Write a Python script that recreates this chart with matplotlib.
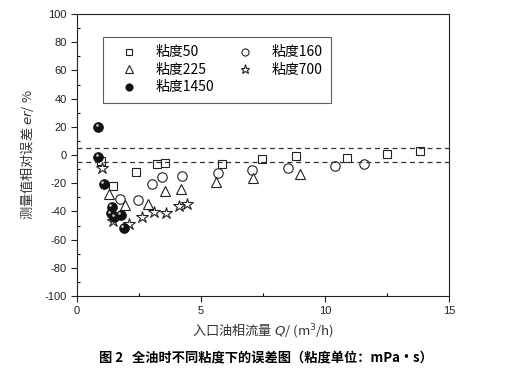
import matplotlib
matplotlib.use("Agg")
import matplotlib.pyplot as plt
import matplotlib.transforms as mtransforms
from matplotlib.ticker import MultipleLocator

plt.rcParams['font.family'] = ['Liberation Sans', 'Noto Sans CJK SC', 'DejaVu Sans']
plt.rcParams['axes.unicode_minus'] = False

# 粘度50
x50 = [0.95, 1.46, 2.36, 3.23, 3.55, 5.83, 7.47, 8.83, 10.9, 12.5, 13.83]
y50 = [-4.3, -21.8, -11.8, -6.6, -5.5, -6.2, -2.6, -0.9, -2.4, 0.7, 2.6]
# 粘度160
x160 = [1.74, 2.44, 3.02, 3.43, 4.25, 5.68, 7.06, 8.51, 10.39, 11.57]
y160 = [-31.0, -32.0, -20.8, -15.8, -14.9, -13.0, -10.6, -9.5, -7.6, -6.6]
# 粘度225
x225 = [1.29, 1.94, 2.87, 3.54, 4.21, 5.59, 7.09, 8.98]
y225 = [-27.4, -35.5, -34.5, -25.5, -24.1, -18.9, -16.1, -13.2]
# 粘度700
x700 = [1.02, 1.46, 2.10, 2.61, 3.12, 3.59, 4.10, 4.45]
y700 = [-9.5, -46.6, -49.0, -44.2, -40.4, -41.1, -35.9, -34.8]
# 粘度1450
x1450 = [0.86, 0.86, 1.09, 1.41, 1.36, 1.51, 1.77, 1.88]
y1450 = [20.1, -1.2, -20.6, -37.0, -41.4, -43.7, -42.5, -51.6]

band = [5, -5]

fig = plt.figure(figsize=(5.31, 3.84), dpi=100)
ax = fig.add_axes([0.145, 0.229, 0.7006, 0.7345])

ms = 6.3
h50, = ax.plot(x50, y50, ls='none', marker='s', ms=ms, mfc='white', mec='#222222', mew=0.8, label='粘度50')
h160, = ax.plot(x160, y160, ls='none', marker='o', ms=ms + 0.5, mfc='white', mec='#222222', mew=0.8, label='粘度160')
h225, = ax.plot(x225, y225, ls='none', marker='^', ms=ms + 1.5, mfc='white', mec='#222222', mew=0.8, label='粘度225')
h700, = ax.plot(x700, y700, ls='none', marker='*', ms=ms + 2.5, mfc='white', mec='#222222', mew=0.8, label='粘度700')
h1450, = ax.plot(x1450, y1450, ls='none', marker='o', ms=ms + 0.8, mfc='#111111', mec='#111111', mew=0.5, label='粘度1450')
# sphere highlight
tr = mtransforms.offset_copy(ax.transData, fig=fig, x=-1.3, y=1.3, units='points')
ax.plot(x1450, y1450, ls='none', marker='o', ms=2.0, mfc='#bbbbbb', mec='none', transform=tr)

for b in band:
    ax.plot([0, 15], [b, b], ls=(0, (4, 3)), color='#333333', lw=0.9)

ax.set_xlim(0, 15)
ax.set_ylim(-100, 100)
ax.xaxis.set_major_locator(MultipleLocator(5))
ax.xaxis.set_minor_locator(MultipleLocator(2.5))
ax.yaxis.set_major_locator(MultipleLocator(20))
ax.yaxis.set_minor_locator(MultipleLocator(10))
ax.tick_params(which='major', direction='out', length=4, width=0.8, labelsize=8, colors='#222222')
ax.tick_params(which='minor', direction='in', length=2.5, width=0.8)
for s in ax.spines.values():
    s.set_linewidth(0.8)
    s.set_color('#222222')

ax.set_xlabel('入口油相流量 $\\it{Q}$/ (m$^3$/h)', fontsize=9.5, family=['Noto Sans CJK SC', 'DejaVu Sans'], labelpad=4, color='#333333')
ax.set_ylabel('测量值相对误差 $\\it{er}$/ %', fontsize=9.5, family=['Noto Sans CJK SC', 'DejaVu Sans'], labelpad=6, color='#333333')

leg = ax.legend(handles=[h50, h225, h1450, h160, h700], ncol=2, loc='upper left',
                bbox_to_anchor=(0.07, 0.918), frameon=True, fancybox=False, edgecolor='#333333',
                prop={'family': ['Noto Sans CJK SC'], 'size': 10}, handletextpad=0.6,
                columnspacing=0.9, labelspacing=0.25, borderpad=0.6, handlelength=2.6,
                markerscale=0.75, borderaxespad=0)
leg.get_frame().set_linewidth(0.8)

fig.text(0.5, 0.07, '图 2   全油时不同粘度下的误差图（粘度单位：mPa·s）', ha='center', va='center',
         fontsize=9.5, fontweight='bold', family=['Noto Sans CJK SC', 'DejaVu Sans'])

fig.savefig('out.png', dpi=100)
